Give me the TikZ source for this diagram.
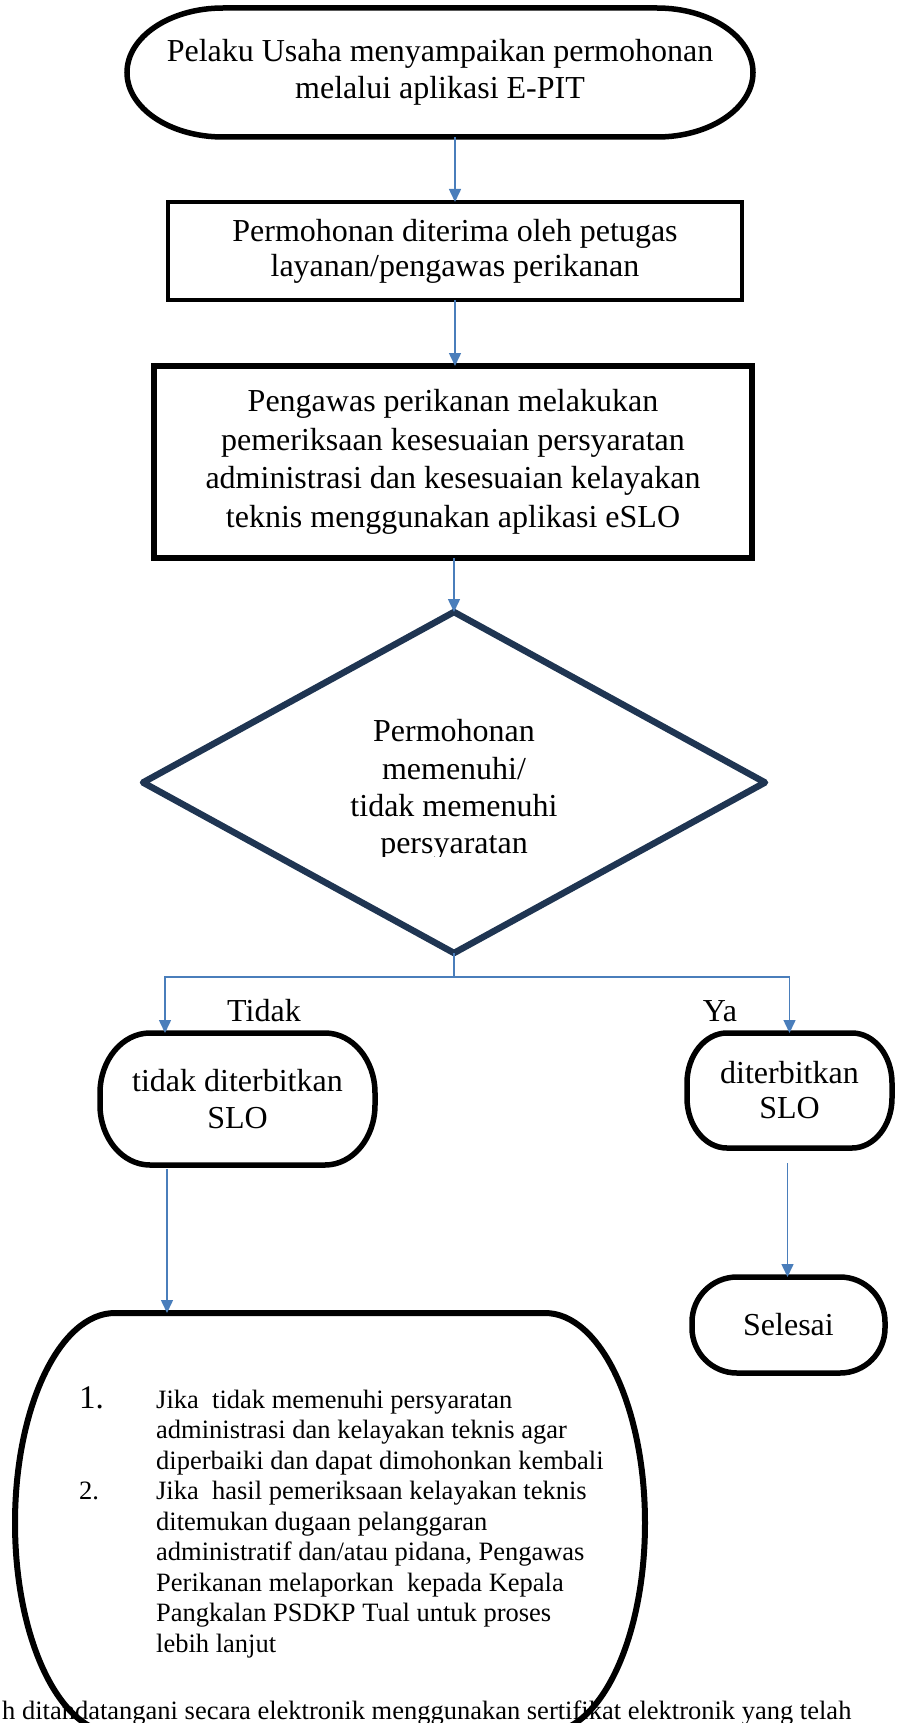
\documentclass[tikz,border=0pt]{standalone}
\usepackage{fontspec}
\setmainfont{Liberation Serif}
\usetikzlibrary{arrows.meta,calc}
\definecolor{arrblue}{RGB}{74,126,187}
\definecolor{navy}{RGB}{31,53,82}
\newcommand\termoutline[4][]{%
  \draw[#1] ($(#2.north west)+(#3,0)$) -- ($(#2.north east)+(-#3,0)$)
   arc[start angle=270,end angle=360,x radius=#3,y radius=#4]
   -- ($(#2.south east)+(0,-#4)$)
   arc[start angle=0,end angle=90,x radius=#3,y radius=#4]
   -- ($(#2.south west)+(#3,0)$)
   arc[start angle=90,end angle=180,x radius=#3,y radius=#4]
   -- ($(#2.north west)+(0,#4)$)
   arc[start angle=180,end angle=270,x radius=#3,y radius=#4] -- cycle;}
\tikzset{
  shp/.style={inner sep=0pt, outer sep=0pt, align=center},
  bigfont/.style={font=\fontsize{32}{37}\selectfont},
  arr/.style={draw=arrblue, line width=1.5pt, -{Triangle[length=13pt,width=12pt]}},
  outl/.style={line width=5.5pt, black},
}
\begin{document}
\begin{tikzpicture}[x=1pt,y=-1pt]
\useasboundingbox (0,0) rectangle (897,1723);
\clip (0,0) rectangle (897,1723);

% start terminator
\node[shp, bigfont, minimum width=626, minimum height=129] (start) at (440,72.5)
  {Pelaku Usaha menyampaikan permohonan\\melalui aplikasi E-PIT};
\termoutline[outl]{start}{96}{64.5}

% box 2
\node[shp, draw, line width=4.5pt, minimum width=574, minimum height=98,
  font=\fontsize{32}{35}\selectfont] (recv) at (455,251)
  {Permohonan diterima oleh petugas\\layanan/pengawas perikanan};

% box 3
\node[shp, draw, line width=6pt, minimum width=598, minimum height=192,
  font=\fontsize{32}{38.5}\selectfont] (check) at (453,462)
  {Pengawas perikanan melakukan\\pemeriksaan kesesuaian persyaratan\\administrasi dan kesesuaian kelayakan\\teknis menggunakan aplikasi eSLO};

% diamond
\node[shp, minimum width=622, minimum height=341] (dia) at (454,782.5) {};
\draw[navy, line width=6.5pt, line join=round] (dia.north) -- (dia.east) -- (dia.south) -- (dia.west) -- cycle;
\begin{scope}
  \clip (0,600) rectangle (897,856);
  \node[shp, font=\fontsize{32}{37.3}\selectfont] (diatxt) at (454,790)
    {Permohonan\\memenuhi/\\tidak memenuhi\\persyaratan};
\end{scope}

% left and right result nodes
\node[shp, bigfont, minimum width=275, minimum height=132] (lnode) at (237.5,1099)
  {tidak diterbitkan\\SLO};
\termoutline[outl]{lnode}{50}{60}
\node[shp, font=\fontsize{32}{35}\selectfont, minimum width=205, minimum height=115] (rnode) at (789.5,1090.5)
  {diterbitkan\\SLO};
\termoutline[outl]{rnode}{40}{50}
\node[shp, bigfont, minimum width=193, minimum height=96] (sel) at (788.5,1325) {Selesai};
\termoutline[outl]{sel}{45}{45}

% labels
\node[shp, bigfont, anchor=base] (tidaklbl) at (264,1021) {Tidak};
\node[shp, bigfont, anchor=base] (yalbl) at (720,1021) {Ya};

% bottom text (behind big shape)
\node[inner sep=0pt, anchor=base west, font=\fontsize{26.5}{30}\selectfont] (foot) at (2,1719)
  {h ditandatangani secara elektronik menggunakan sertifikat elektronik yang telah};

% big node
\node[shp, minimum width=630, minimum height=420] (big) at (330,1523) {};
\termoutline[line width=6pt, black]{big}{100}{210}
\node[inner sep=0pt, anchor=base west, font=\fontsize{26.5}{30.5}\selectfont] (list) at (79,1408)
  {\begin{tabular}[t]{@{}l@{}l@{}}
   \makebox[77pt][l]{\fontsize{33}{30.5}\selectfont 1.} & Jika\ \ tidak memenuhi persyaratan\\
   & administrasi dan kelayakan teknis agar\\
   & diperbaiki dan dapat dimohonkan kembali\\
   \makebox[77pt][l]{2.} & Jika\ \ hasil pemeriksaan kelayakan teknis\\
   & ditemukan dugaan pelanggaran\\
   & administratif dan/atau pidana, Pengawas\\
   & Perikanan melaporkan\ \ kepada Kepala\\
   & Pangkalan PSDKP Tual untuk proses\\
   & lebih lanjut
  \end{tabular}};

% connectors
\draw[arr] (recv.north |- start.south) -- (recv.north);
\draw[arr] (recv.south) -- (recv.south |- check.north);
\draw[arr] (dia.north |- check.south) -- (dia.north);
\coordinate (lt) at ($(lnode.north west)+(65,0)$);
\draw[arr] (dia.south) -- ++(0,24) -| (lt);
\draw[arr] (dia.south) -- ++(0,24) -| (rnode.north);
\coordinate (ls) at ($(lnode.south west)+(67,4)$);
\draw[arr] (ls) -- (ls |- big.north);
\coordinate (rs) at ($(rnode.south)+(-2,15)$);
\draw[arr] (rs) -- (rs |- sel.north);
\end{tikzpicture}
\end{document}
